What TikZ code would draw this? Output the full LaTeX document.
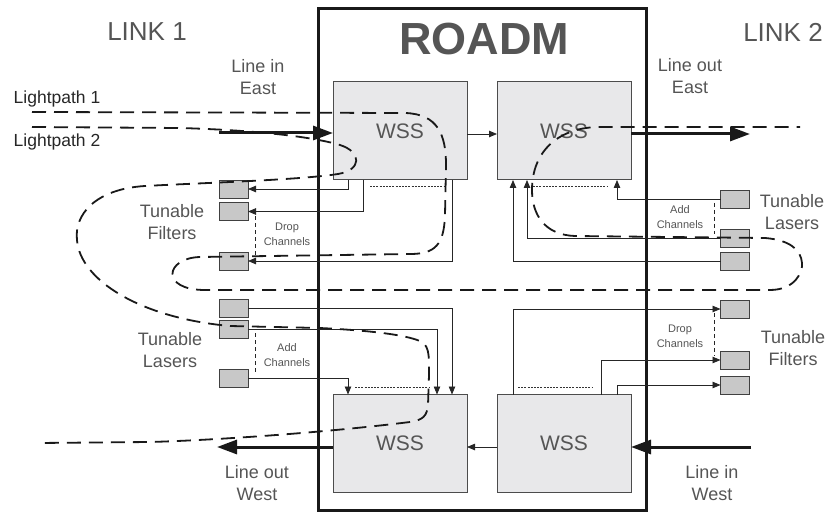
\documentclass[tikz,border=0pt]{standalone}
\usepackage{fontspec}
\setmainfont{Liberation Sans}
\usetikzlibrary{arrows.meta}
\definecolor{txtgray}{HTML}{555555}
\definecolor{wssfill}{HTML}{E8E8EA}
\definecolor{boxgray}{HTML}{C8C8C8}
\begin{document}
\begin{tikzpicture}[x=1pt,y=-1pt,
  wss/.style={draw=black!70, fill=wssfill, line width=1pt, minimum width=134pt, minimum height=98pt, inner sep=0pt, outer sep=0pt, font=\fontsize{21}{21}\selectfont, text=txtgray},
  sbox/.style={draw=black!75, fill=boxgray, line width=0.9pt, minimum width=29pt, minimum height=18pt, inner sep=0pt, outer sep=0pt},
  lbl/.style={text=txtgray, font=\fontsize{18}{22}\selectfont, align=center, inner sep=0pt},
  biglbl/.style={text=txtgray, font=\fontsize{26}{26}\selectfont, inner sep=0pt},
  dark/.style={text=black!85, font=\fontsize{17.5}{20}\selectfont, inner sep=0pt},
  small/.style={text=txtgray, font=\fontsize{11}{15}\selectfont, align=center, inner sep=0pt},
  conn/.style={draw=black!85, line width=0.8pt},
  carrow/.style={conn, -{Triangle[length=8pt,width=6.5pt]}},
  bigarrow/.style={draw=black!90, line width=3pt, -{Triangle[length=20pt,width=14pt]}},
  lp/.style={draw=black!90, line width=1.8pt, dash pattern=on 14pt off 8pt},
  fine/.style={draw=black!80, line width=0.6pt, dash pattern=on 2pt off 1.2pt},
  vdash/.style={draw=black!85, line width=0.7pt, dash pattern=on 4pt off 3pt}]
\useasboundingbox (0,0) rectangle (830,513);

% ROADM frame
\node[draw=black!90, line width=3pt, minimum width=328pt, minimum height=502pt, inner sep=0pt] (roadm) at (482,259.5) {};
\node[text=txtgray, font=\fontsize{45}{45}\selectfont\bfseries, inner sep=0pt] (title) at (484,39) {ROADM};

% WSS boxes
\node[wss] (wTL) at (400,131) {WSS};
\node[wss] (wTR) at (564,131) {WSS};
\node[wss] (wBL) at (400,443.5) {WSS};
\node[wss] (wBR) at (564,443.5) {WSS};

% left small boxes
\node[sbox] (f1) at (233.5,189) {};
\node[sbox] (f2) at (233.5,211.5) {};
\node[sbox] (f3) at (233.5,261) {};
\node[sbox] (l1) at (233.5,308) {};
\node[sbox] (l2) at (233.5,329) {};
\node[sbox] (l3) at (233.5,378) {};
% right small boxes
\node[sbox] (rl1) at (735,199) {};
\node[sbox] (rl2) at (735,238) {};
\node[sbox] (rl3) at (735,261) {};
\node[sbox] (rf1) at (735,309) {};
\node[sbox] (rf2) at (735,360) {};
\node[sbox] (rf3) at (735,385) {};

% drop / add connectors
\draw[carrow] ([xshift=-52pt]wTL.south) |- (f1.east);
\draw[carrow] ([xshift=-37pt]wTL.south) |- (f2.east);
\draw[carrow] ([xshift=52pt]wTL.south) |- (f3.east);
\draw[carrow] (l1.east) -| ([xshift=52pt]wBL.north);
\draw[carrow] (l2.east) -| ([xshift=37pt]wBL.north);
\draw[carrow] (l3.east) -| ([xshift=-52pt]wBL.north);
\draw[carrow] (rl1.west) -| ([xshift=53pt]wTR.south);
\draw[carrow] (rl2.west) -| ([xshift=-37pt]wTR.south);
\draw[carrow] (rl3.west) -| ([xshift=-51pt]wTR.south);
\draw[carrow] ([xshift=-51pt]wBR.north) |- (rf1.west);
\draw[carrow] ([xshift=37pt]wBR.north) |- (rf2.west);
\draw[carrow] ([xshift=53pt]wBR.north) |- (rf3.west);

% fine dotted lines near WSS
\draw[fine] ([shift={(-30pt,-6pt)}]wTL.south) -- ([shift={(45pt,-6pt)}]wTL.south);
\draw[fine] ([shift={(-31pt,-6pt)}]wTR.south) -- ([shift={(44pt,-6pt)}]wTR.south);
\draw[fine] ([shift={(-45pt,7pt)}]wBL.north) -- ([shift={(30pt,7pt)}]wBL.north);
\draw[fine] ([shift={(-46pt,7pt)}]wBR.north) -- ([shift={(29pt,7pt)}]wBR.north);

% channel group dashed verticals
\draw[vdash] ([shift={(7pt,-5pt)}]f2.east) -- ([shift={(7pt,5pt)}]f3.east);
\draw[vdash] ([shift={(7pt,-4pt)}]l2.east) -- ([shift={(7pt,4pt)}]l3.east);
\draw[vdash] ([shift={(-6pt,-4pt)}]rl1.west) -- ([shift={(-6pt,4pt)}]rl2.west);
\draw[vdash] ([shift={(-6pt,-4pt)}]rf1.west) -- ([shift={(-6pt,4pt)}]rf2.west);
\node[small] (dropL) at (287,234.5) {Drop\\Channels};
\node[small] (addL) at (287,355.5) {Add\\Channels};
\node[small] (addR) at (680,217.5) {Add\\Channels};
\node[small] (dropR) at (680,336.5) {Drop\\Channels};

% line in/out
\coordinate (inE) at (219,133);
\coordinate (outE) at (750,134);
\coordinate (outW) at (217,447);
\coordinate (inW) at (751,447);
\draw[bigarrow] (inE) -- (wTL.west |- inE);
\draw[bigarrow] (wTR.east |- outE) -- (outE);
\draw[bigarrow] (wBL.west |- outW) -- (outW);
\draw[bigarrow] (inW) -- (wBR.east |- inW);
\draw[carrow] ([yshift=-3pt]wTL.east) -- ([yshift=-3pt]wTR.west);
\draw[carrow] ([yshift=-3.5pt]wBR.west) -- ([yshift=-3.5pt]wBL.east);

% lightpaths
\draw[lp] (32,112) -- (405,113) .. controls (438,114) and (446,135) .. (446,165)
  -- (445,215) .. controls (444,245) and (435,254) .. (410,254)
  -- (200,257) .. controls (165,258) and (160,290) .. (205,290)
  -- (770,290) .. controls (795,290) and (803,272) .. (802,263)
  .. controls (801,250) and (790,240) .. (765,238)
  -- (575,236) .. controls (545,235) and (532,215) .. (532,190)
  .. controls (532,150) and (560,127) .. (600,127) -- (800,127);
\draw[lp] (32,127) -- (180,128) .. controls (250,130) and (310,136) .. (340,145)
  .. controls (362,152) and (362,170) .. (338,174)
  .. controls (300,180) and (200,183) .. (145,186)
  .. controls (95,189) and (74,215) .. (77,240)
  .. controls (80,280) and (140,318) .. (230,326)
  -- (320,328) .. controls (380,331) and (410,336) .. (422,342)
  .. controls (430,347) and (429,360) .. (429,375)
  -- (428,405) .. controls (427,416) and (423,420) .. (410,422)
  .. controls (330,432) and (220,440) .. (150,442) -- (38,443);

% labels
\node[biglbl] (link1) at (147,32) {LINK 1};
\node[biglbl] (link2) at (783,32) {LINK 2};
\node[lbl] (lie) at (258,77) {Line in\\East};
\node[lbl] (loe) at (690,76) {Line out\\East};
\node[dark] (lp1) at (57,99) {Lightpath 1};
\node[dark] (lp2) at (57,142) {Lightpath 2};
\node[lbl] (tfl) at (172,222) {Tunable\\Filters};
\node[lbl] (tll) at (170,350) {Tunable\\Lasers};
\node[lbl] (tlr) at (792,212) {Tunable\\Lasers};
\node[lbl] (tfr) at (793,348.5) {Tunable\\Filters};
\node[lbl] (low) at (257,483.5) {Line out\\West};
\node[lbl] (liw) at (712,483.5) {Line in\\West};
\end{tikzpicture}
\end{document}
